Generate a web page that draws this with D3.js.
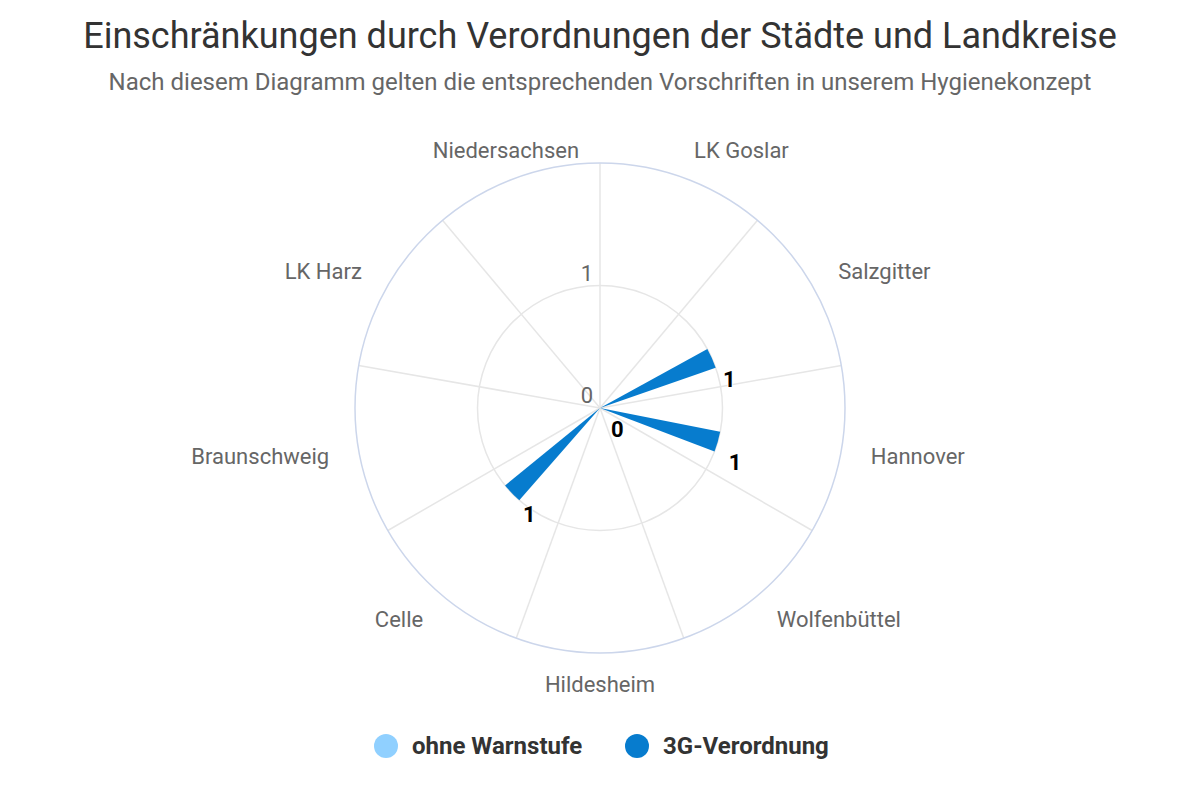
<!DOCTYPE html>
<html><head><meta charset="utf-8">
<script src="https://cdn.jsdelivr.net/npm/d3@7"></script>
<style>
html,body{margin:0;padding:0;background:#fff;}
svg{display:block;font-family:Roboto,"Noto Sans",sans-serif;}
</style></head>
<body>
<svg id="chart" width="1200" height="800"></svg>
<script>
const titleText = "Einschränkungen durch Verordnungen der Städte und Landkreise";
const subtitleText = "Nach diesem Diagramm gelten die entsprechenden Vorschriften in unserem Hygienekonzept";
const categories = ["Niedersachsen","LK Goslar","Salzgitter","Hannover","Wolfenbüttel","Hildesheim","Celle","Braunschweig","LK Harz"];
const seriesNames = ["ohne Warnstufe","3G-Verordnung"];
const seriesColors = ["#90d0ff","#077cce"];
const ohneWarnstufe = [null,null,null,null,null,null,null,null,null];
const dreiG = [null,null,1,1,0,null,1,null,null];
const yTicks = [0,1];
const yMax = 2;

const svg = d3.select("#chart");
const W = 1200, H = 800;
const cx = 600, cy = 408, R = 245;
const startAngle = -40;

svg.append("text").attr("x", W/2).attr("y", 48).attr("text-anchor","middle")
  .attr("font-size", 36).attr("fill","#333").text(titleText);
svg.append("text").attr("x", W/2).attr("y", 90).attr("text-anchor","middle")
  .attr("font-size", 24).attr("fill","#666").text(subtitleText);

const x0 = d3.scaleBand().domain(categories).range([startAngle, startAngle+360]).padding(0);
const bw = x0.bandwidth();
const x1 = d3.scaleBand().domain(seriesNames).range([0.2*bw, 0.8*bw]).paddingInner(0.2).paddingOuter(0.1);
const r = d3.scaleLinear().domain([0, yMax]).range([0, R]);
const rad = d => d*Math.PI/180;
const pt = (deg, rr) => [cx + rr*Math.sin(rad(deg)), cy - rr*Math.cos(rad(deg))];

const g = svg.append("g");
g.selectAll(".ygrid").data(yTicks.filter(t=>t>0)).enter().append("circle")
  .attr("cx",cx).attr("cy",cy).attr("r",d=>r(d)).attr("fill","none").attr("stroke","#e6e6e6").attr("stroke-width",1.5);
g.selectAll(".xgrid").data(categories).enter().append("line")
  .attr("x1",cx).attr("y1",cy)
  .attr("x2",d=>pt(x0(d)+bw, R)[0]).attr("y2",d=>pt(x0(d)+bw, R)[1])
  .attr("stroke","#e6e6e6").attr("stroke-width",1.5);
g.append("circle").attr("cx",cx).attr("cy",cy).attr("r",R).attr("fill","none").attr("stroke","#ccd6eb").attr("stroke-width",1.5);

g.selectAll(".ylab").data(yTicks).enter().append("text")
  .attr("x", cx-7).attr("y", d=>cy - r(d) - 5).attr("text-anchor","end")
  .attr("font-size",22).attr("fill","#666").text(d=>d);

g.selectAll(".xlab").data(categories).enter().append("text")
  .each(function(d){
    let a = x0(d) + bw/2; a = ((a%360)+360)%360;
    const p = pt(a, R+30);
    let anchor = "middle";
    if (a > 15 && a < 165) anchor = "start";
    else if (a > 195 && a < 335) anchor = "end";
    d3.select(this).attr("x",p[0]).attr("y",p[1]+1).attr("dy","0.35em").attr("text-anchor",anchor);
  })
  .attr("font-size",22).attr("fill","#666").text(d=>d);

const series = [ohneWarnstufe, dreiG];
const arc = d3.arc();
series.forEach((vals, si) => {
  const name = seriesNames[si];
  const pts = categories.map((c,i)=>({c, v: vals[i]})).filter(d=>d.v!==null);
  g.selectAll(".bar"+si).data(pts).enter().append("path")
    .attr("transform",`translate(${cx},${cy})`)
    .attr("d", d=>arc({innerRadius:0, outerRadius:r(d.v), startAngle: rad(x0(d.c)+x1(name)), endAngle: rad(x0(d.c)+x1(name)+x1.bandwidth())}))
    .attr("fill", seriesColors[si]);
  g.selectAll(".dl"+si).data(pts).enter().append("text")
    .each(function(d){
      const a = x0(d.c)+x1(name)+x1.bandwidth()/2;
      const p = pt(a, r(d.v));
      d3.select(this).attr("x", p[0]+11).attr("y", p[1]+21).attr("dy","0.35em");
    })
    .attr("font-size",22).attr("font-weight","bold").attr("fill","#000")
    .attr("stroke","#fff").attr("stroke-width",2).attr("paint-order","stroke")
    .text(d=>d.v);
});

const legend = svg.append("g");
const legendX = [386, 637];
seriesNames.forEach((n,i)=>{
  legend.append("circle").attr("cx",legendX[i]).attr("cy",746).attr("r",12).attr("fill",seriesColors[i]);
  legend.append("text").attr("x",legendX[i]+26).attr("y",746).attr("dy","0.35em")
    .attr("font-size",24).attr("font-weight","bold").attr("fill","#333").text(n);
});
</script>
</body></html>
